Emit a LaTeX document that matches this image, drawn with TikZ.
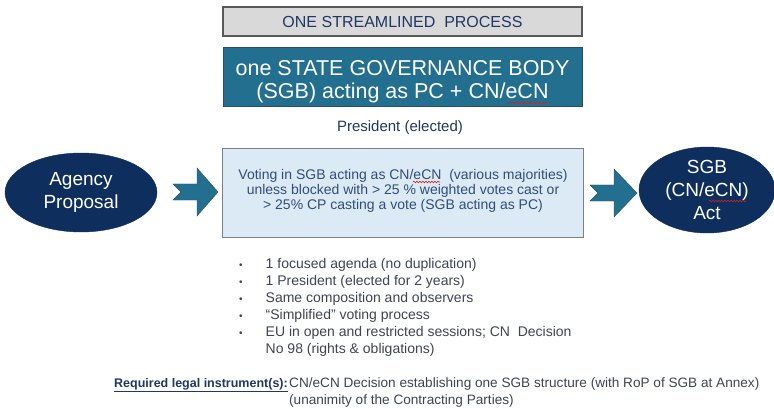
\documentclass[tikz,border=0pt]{standalone}
\usepackage{fontspec}
\setmainfont{Liberation Sans}
\usetikzlibrary{shapes.geometric,decorations.pathmorphing}
\definecolor{greyfill}{HTML}{D9D9D9}
\definecolor{greyline}{HTML}{595959}
\definecolor{navytext}{HTML}{1F3864}
\definecolor{teal}{HTML}{236F90}
\definecolor{tealline}{HTML}{2B4F63}
\definecolor{lightfill}{HTML}{DCEAF6}
\definecolor{boxline}{HTML}{7F7F7F}
\definecolor{votetext}{HTML}{2F4D7E}
\definecolor{navy}{HTML}{0E2F5E}
\definecolor{bodytext}{HTML}{3F4457}
\definecolor{spellred}{HTML}{D02020}
\newcommand{\fs}[2]{\fontsize{#1}{#2}\selectfont}
\tikzset{
  titlebox/.style={draw=greyline, line width=1.3pt, fill=greyfill, minimum width=359pt, minimum height=29pt, inner sep=0pt, text=navytext, font=\fs{16}{18}},
  govbox/.style={draw=tealline, line width=1pt, fill=teal, minimum width=359pt, minimum height=59pt, inner sep=0pt},
  govtext/.style={text=white, align=center, font=\fs{21.5}{23}, inner sep=0pt},
  votebox/.style={draw=boxline, line width=1pt, fill=lightfill, minimum width=361pt, minimum height=88pt, inner sep=0pt},
  votetext/.style={text=votetext, align=center, font=\fs{14}{15}, inner sep=0pt},
  oval/.style={ellipse, draw=navy, fill=navy, inner sep=0pt, text=white, align=center, font=\fs{19}{23}},
  blockarrow/.style={fill=teal, draw=tealline, line width=0.4pt},
  plain/.style={inner sep=0pt, text=bodytext, font=\fs{14}{17}},
  spell/.style={draw=spellred, line width=0.6pt, decorate, decoration={snake, amplitude=0.8pt, segment length=3pt}}
}
\begin{document}
\begin{tikzpicture}[x=1pt,y=-1pt]
\useasboundingbox (0,0) rectangle (774,409);
\fill[white] (0,0) rectangle (774,409);

% top boxes
\node[titlebox] (title) at (402.5,21.5) {ONE STREAMLINED\ \ PROCESS};
\node[govbox] (gov) at (402.5,77.5) {};
\node[govtext] (govt) at (402.5,81.5) {one STATE GOVERNANCE BODY\\(SGB) acting as PC + CN/eCN};
\draw[spell] (509,103) -- (547,103);

\node[inner sep=0pt, text=navytext, font=\fs{15}{18}] (pres) at (400,127.5) {President (elected)};

% voting box
\node[votebox] (vote) at (402.5,193) {};
\node[votetext] (votet) at (403,190.5) {Voting in SGB acting as CN/eCN\ \ (various majorities)\\unless blocked with > 25 \% weighted votes cast or\\> 25\% CP casting a vote (SGB acting as PC)};
\draw[spell] (413,182) -- (440,182);

% ellipses
\node[oval, minimum width=152pt, minimum height=79pt] (agency) at (81,192.5) {Agency\\Proposal};
\node[oval, minimum width=136pt, minimum height=86pt] (act) at (707,190) {SGB\\(CN/eCN)\\Act};
\draw[spell] (709,201) -- (746,201);

% block arrows
\draw[blockarrow] (173,184) -- (197,184) -- (197,168) -- (218,192) -- (197,216) -- (197,200) -- (173,200) -- (181,192) -- cycle;
\draw[blockarrow] (590,185) -- (614,185) -- (614,169) -- (637,193) -- (614,217) -- (614,201) -- (590,201) -- (598,193) -- cycle;

% bullet list
\node[plain, anchor=north west] (bullets) at (239,256) {\begin{tabular}{@{}l@{\hspace{23pt}}l@{}}
{\fs{10}{17}•} & 1 focused agenda (no duplication)\\
{\fs{10}{17}•} & 1 President (elected for 2 years)\\
{\fs{10}{17}•} & Same composition\ and observers\\
{\fs{10}{17}•} & “Simplified” voting process\\
{\fs{10}{17}•} & EU in open and restricted sessions;\ CN\ \ Decision\\
 & No 98 (rights \& obligations)
\end{tabular}};

% legal instrument
\node[inner sep=0pt, anchor=base east, text=navytext, font=\bfseries\fs{12.5}{17}] (req) at (288,387) {\underline{Required legal instrument(s):}};
\node[plain, anchor=north west, font=\fs{13.6}{17}] (instr) at (289,375.1) {\begin{tabular}{@{}l@{}}
CN/eCN Decision establishing one SGB structure (with RoP of SGB at Annex)\\
(unanimity of the Contracting Parties)
\end{tabular}};
\end{tikzpicture}
\end{document}
